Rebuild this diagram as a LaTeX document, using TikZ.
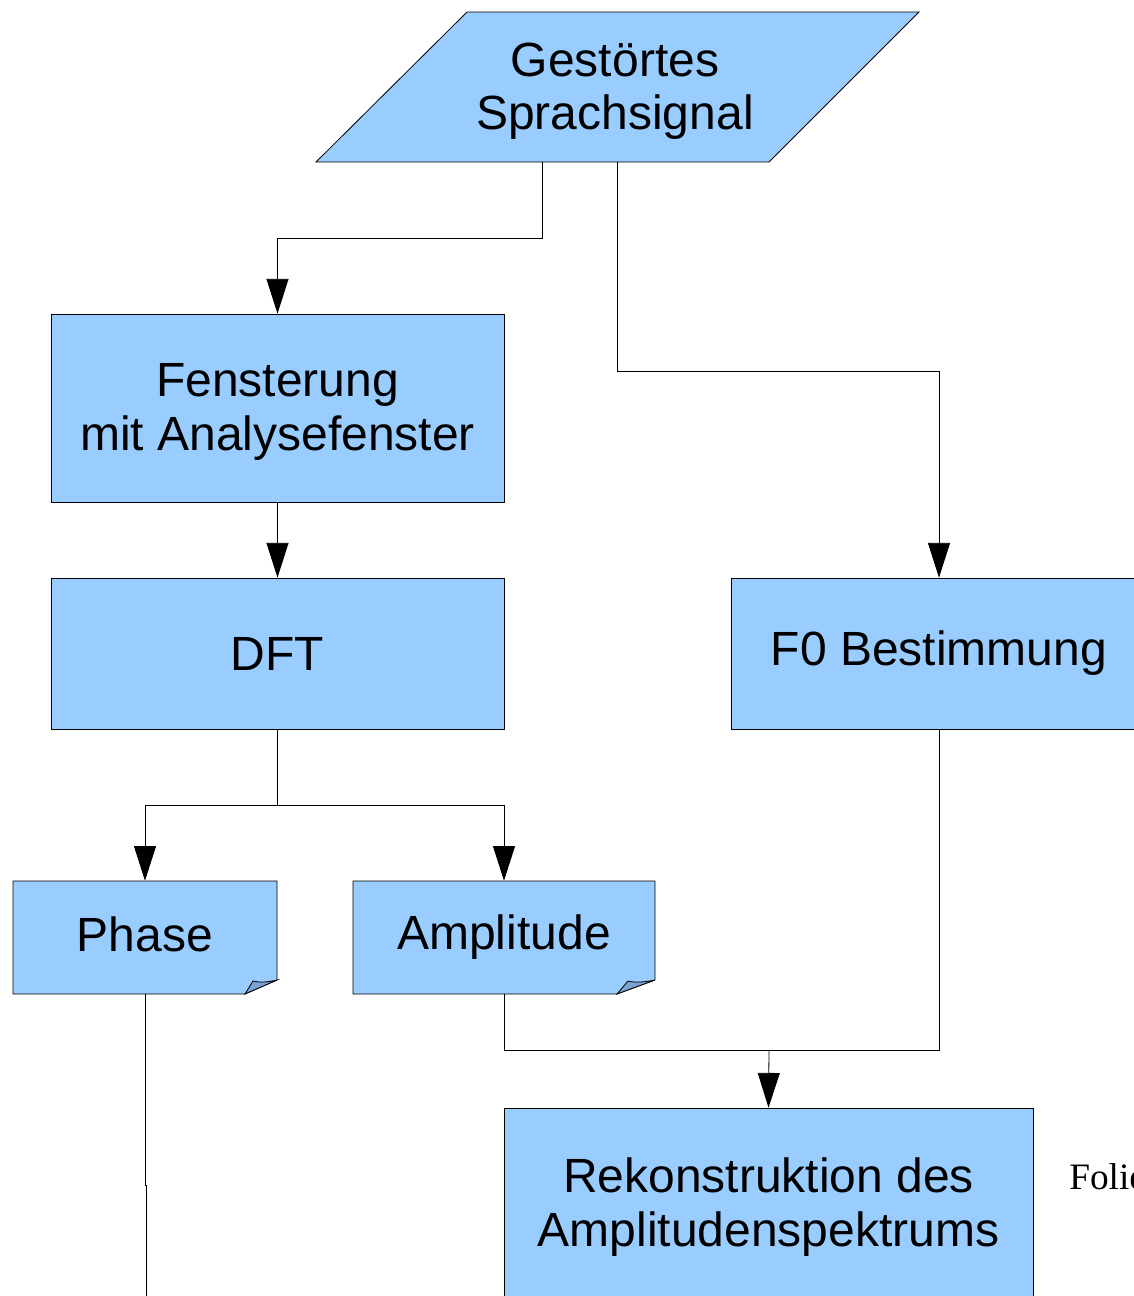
\documentclass[tikz,border=0pt]{standalone}
\usepackage{fontspec}
\setmainfont{Liberation Sans}
\newfontfamily\serifont{Liberation Serif}
\usetikzlibrary{arrows.meta}
\definecolor{boxblue}{HTML}{99CCFF}
\definecolor{folddark}{RGB}{122,163,210}
\begin{document}
\begin{tikzpicture}[x=0.75pt,y=-0.75pt,
  lab/.style={font=\fontsize{36}{40}\selectfont, align=center, inner sep=0pt},
  box/.style={lab, fill=boxblue, draw=black, line width=0.6pt},
  conn/.style={draw=black, line width=0.6pt},
  arr/.style={conn, -{Triangle[length=26pt,width=16.5pt]}}]
\useasboundingbox (0,0) rectangle (1134,1296);
\clip (0,0) rectangle (1134,1296);
% input parallelogram
\filldraw[fill=boxblue, draw=black, line width=0.6pt]
  (467,12) -- (919,12) -- (769,162) -- (316,162) -- cycle;
\node[lab] (gs) at (615,91) {Gestörtes\\Sprachsignal};
\coordinate (gsA) at (542,162);
\coordinate (gsB) at (617,162);
% process boxes
\node[box, minimum width=339.75pt, minimum height=141pt,
  label={[lab,yshift=-3pt]center:Fensterung\\mit Analysefenster}] (fen) at (277.5,408) {};
\node[box, minimum width=339.75pt, minimum height=113.25pt] (dft) at (277.5,653.5) {DFT};
\node[box, minimum width=312pt, minimum height=113.25pt] (f0) at (939,653.5) {F0 Bestimmung};
\node[box, minimum width=396.75pt, minimum height=142.5pt,
  label={[lab,yshift=-3pt]center:Rekonstruktion des\\Amplitudenspektrums}] (rek) at (768.5,1203) {};
% document shapes
\filldraw[fill=boxblue, draw=black, line width=0.6pt]
  (13,881) -- (277,881) -- (277,980) -- (245,994) -- (13,994) -- cycle;
\filldraw[fill=folddark, draw=black, line width=0.6pt]
  (245,994) -- (253,981) .. controls (260,983) and (268,982) .. (277,980) -- cycle;
\node[lab, minimum width=198pt, minimum height=84.75pt] (phase) at (145,937.5) {\raisebox{5pt}{Phase}};
\filldraw[fill=boxblue, draw=black, line width=0.6pt]
  (353,881) -- (655,881) -- (655,980) -- (617,994) -- (353,994) -- cycle;
\filldraw[fill=folddark, draw=black, line width=0.6pt]
  (617,994) -- (628,981) .. controls (636,983) and (645,982) .. (655,980) -- cycle;
\node[lab, minimum width=226.5pt, minimum height=84.75pt] (ampl) at (504,937.5) {\raisebox{3pt}{Amplitude}};
% side text
\node[font=\serifont\fontsize{28}{32}\selectfont, anchor=base west, inner sep=0pt] (folie) at (1069,1189) {Folie};
% connectors
\draw[arr] (gsA) -- (542,238) -| (fen.north);
\draw[arr] (gsB) -- (617,371) -| (f0.north);
\draw[arr] (fen.south) -- (dft.north);
\coordinate (j1) at (277.5,805);
\draw[conn] (dft.south) -- (j1);
\draw[arr] (j1) -| (phase.north);
\draw[arr] (j1) -| (ampl.north);
\coordinate (j2) at (769,1050);
\draw[conn] (ampl.south) |- (j2) -| (f0.south);
\draw[arr] (j2) -- (rek.north);
\coordinate (pend) at (146,1300);
\draw[conn] (phase.south) -- (145,1185) -- (146,1185) -- (pend);
\end{tikzpicture}
\end{document}
